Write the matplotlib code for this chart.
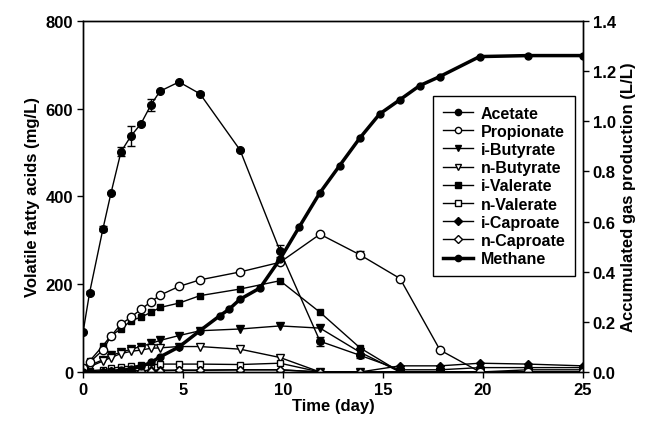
import matplotlib
matplotlib.use("Agg")
import matplotlib.pyplot as plt
from matplotlib.lines import Line2D

plt.rcParams['font.family'] = ['Liberation Sans', 'DejaVu Sans']
plt.rcParams['font.weight'] = 'bold'

# sampling times (day)
t = [0, 0.33, 1.0, 1.4, 1.9, 2.4, 2.9, 3.4, 3.85, 4.8, 5.85, 7.85, 9.85,
     11.85, 13.85, 15.85, 17.85, 19.85, 22.25, 25]

acetate = [90, 181, 327, 408, 502, 538, 566, 609, 640, 661, 634, 506, 276,
           70, 38, 5, 5, 10, 10, 10]
acetate_err = [0, 3, 5, 3, 10, 22, 3, 14, 3, 3, 3, 3, 14, 10, 5, 0, 0, 0, 0, 0]
propionate = [10, 22, 50, 82, 109, 125, 143, 160, 175, 195, 210, 228, 250,
              314, 267, 213, 50, 0, 0, 0]
propionate_err = [0, 0, 0, 0, 0, 0, 0, 0, 0, 0, 0, 0, 0, 0, 8, 0, 0, 0, 0, 0]
i_butyrate = [5, 15, 28, 38, 45, 52, 58, 65, 72, 83, 94, 98, 105,
              100, 45, 0, 0, 0, 0, 0]
n_butyrate = [5, 12, 25, 33, 42, 47, 50, 54, 55, 58, 58, 52, 33,
              0, 0, 0, 0, 0, 0, 0]
i_valerate = [8, 25, 60, 83, 98, 117, 125, 136, 147, 157, 174, 189, 208,
              136, 55, 0, 0, 0, 0, 0]
n_valerate = [2, 3, 5, 8, 12, 13, 15, 16, 18, 18, 18, 17, 20,
              0, 0, 0, 0, 0, 0, 0]
i_caproate = [0, 0, 1, 2, 2, 3, 3, 4, 4, 4, 4, 5, 5,
              0, 0, 14, 14, 20, 18, 14]
n_caproate = [0, 0, 1, 1, 2, 2, 3, 3, 3, 4, 4, 5, 5,
              0, 0, 0, 0, 0, 5, 5]

# methane (L/L)
tm = [0, 0.33, 1.0, 1.4, 1.9, 2.4, 2.9, 3.4, 3.85, 4.8, 5.85, 6.85, 7.3,
      7.85, 8.85, 9.85, 10.8, 11.83, 12.83, 13.83, 14.83, 15.83, 16.83,
      17.83, 19.83, 22.25, 25]
methane = [0, 0, 0, 0.003, 0.006, 0.012, 0.022, 0.038, 0.06, 0.1, 0.165,
           0.225, 0.25, 0.29, 0.335, 0.45, 0.577, 0.713, 0.823, 0.932,
           1.029, 1.085, 1.142, 1.178, 1.258, 1.262, 1.262]

fig = plt.figure(figsize=(6.46, 4.31), dpi=100)
ax = fig.add_axes([0.1285, 0.1346, 0.774, 0.8144])
ax2 = ax.twinx()

kw = dict(color='black', lw=1.0, mec='black', capsize=3, elinewidth=1)
ax.errorbar(t, acetate, yerr=acetate_err, marker='o', mfc='black', ms=5.5, **kw)
ax.errorbar(t, propionate, yerr=propionate_err, marker='o', mfc='white', ms=6, **kw)
ax.plot(t, i_butyrate, marker='v', mfc='black', color='black', lw=1.0, ms=5.5)
ax.plot(t, n_butyrate, marker='v', mfc='white', color='black', lw=1.0, ms=5.5)
ax.plot(t, i_valerate, marker='s', mfc='black', color='black', lw=1.0, ms=5)
ax.plot(t, n_valerate, marker='s', mfc='white', color='black', lw=1.0, ms=5)
ax.plot(t, i_caproate, marker='D', mfc='black', color='black', lw=1.0, ms=4.5)
ax.plot(t, n_caproate, marker='D', mfc='white', color='black', lw=1.0, ms=4.5)
ax2.plot(tm, methane, marker='o', mfc='black', color='black', lw=2.5, ms=5)

ax.set_xlim(0, 25)
ax.set_ylim(0, 800)
ax2.set_ylim(0, 1.4)
ax.set_xticks([0, 5, 10, 15, 20, 25])
ax.set_yticks([0, 200, 400, 600, 800])
ax2.set_yticks([0, 0.2, 0.4, 0.6, 0.8, 1.0, 1.2, 1.4])
ax2.set_yticklabels(['0.0', '0.2', '0.4', '0.6', '0.8', '1.0', '1.2', '1.4'])

for a in (ax, ax2):
    a.tick_params(direction='out', length=4, width=1, labelsize=12, pad=3)
    for lab in a.get_xticklabels() + a.get_yticklabels():
        lab.set_fontweight('bold')
    for s in a.spines.values():
        s.set_linewidth(1)

ax.set_xlabel('Time (day)', fontsize=12, fontweight='bold', labelpad=1)
ax.set_ylabel('Volatile fatty acids (mg/L)', fontsize=12, fontweight='bold', labelpad=4)
ax2.set_ylabel('Accumulated gas production (L/L)', fontsize=12, fontweight='bold', labelpad=4)

names = ['Acetate', 'Propionate', 'i-Butyrate', 'n-Butyrate', 'i-Valerate',
         'n-Valerate', 'i-Caproate', 'n-Caproate', 'Methane']
styles = [('o', 'black', 1.0), ('o', 'white', 1.0), ('v', 'black', 1.0),
          ('v', 'white', 1.0), ('s', 'black', 1.0), ('s', 'white', 1.0),
          ('D', 'black', 1.0), ('D', 'white', 1.0), ('o', 'black', 2.5)]
handles = [Line2D([], [], color='black', marker=m, mfc=fc, mec='black', lw=w, ms=4.5)
           for m, fc, w in styles]
leg = ax2.legend(handles, names, loc='upper left', bbox_to_anchor=(0.70, 0.786),
                 borderaxespad=0, frameon=True, fancybox=False, edgecolor='black',
                 framealpha=1, prop={'weight': 'bold', 'size': 11.5},
                 handlelength=1.9, labelspacing=0.2, borderpad=0.6, handletextpad=0.5)
leg.get_frame().set_linewidth(1)

fig.savefig('out.png', dpi=100)
